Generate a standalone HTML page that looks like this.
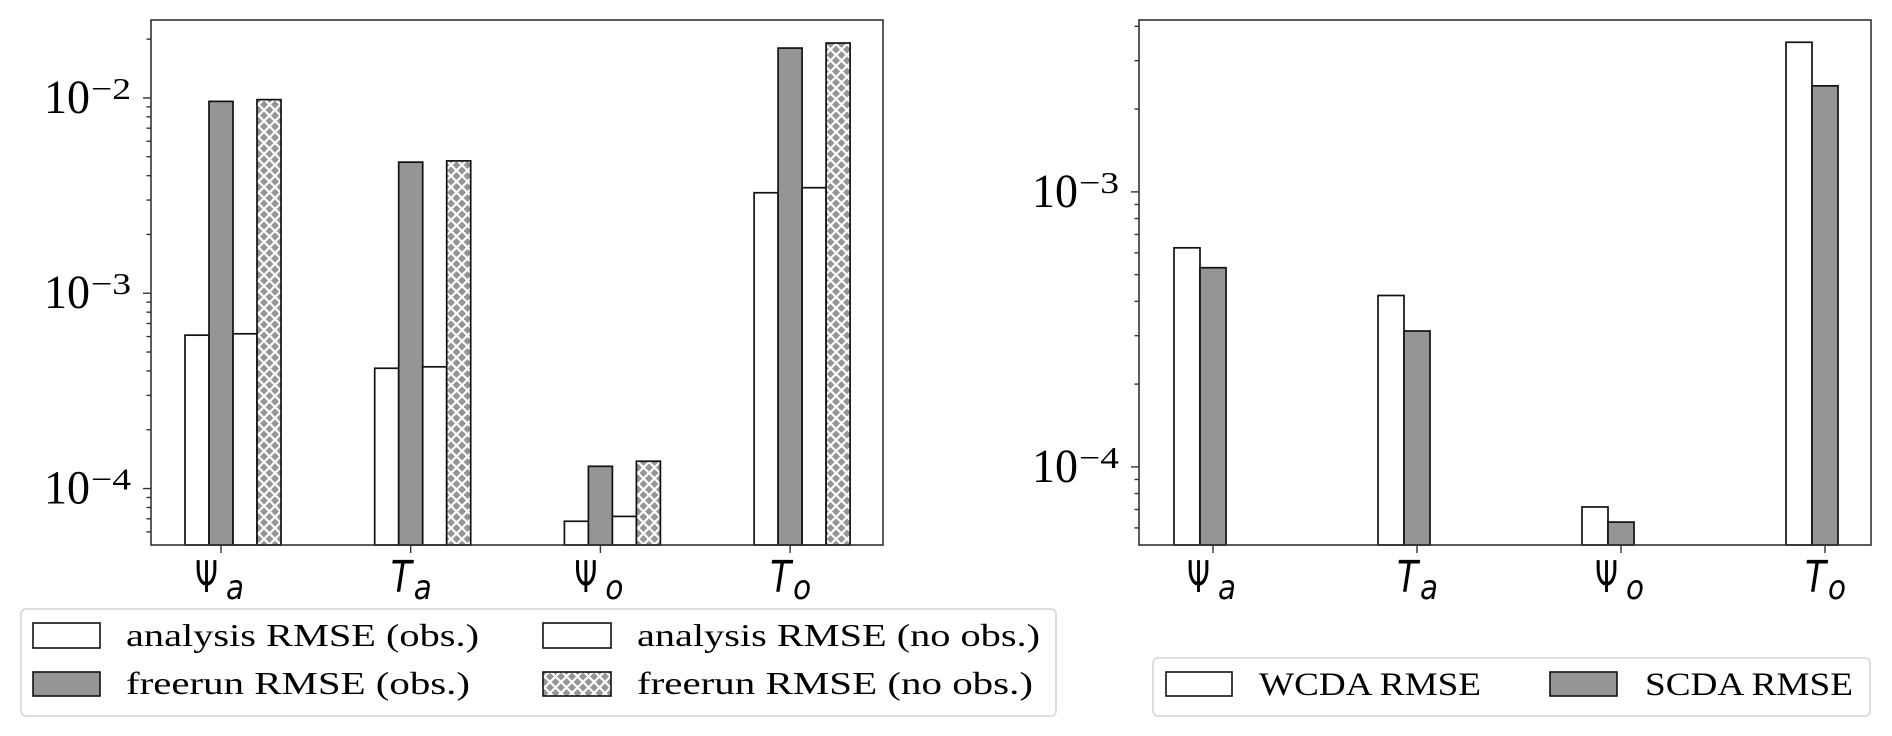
<!DOCTYPE html>
<html><head><meta charset="utf-8"><style>
html,body{margin:0;padding:0;background:#fff;}
svg{display:block;}
</style></head><body>
<svg id="fig" width="1892" height="736" viewBox="0 0 1892 736" xmlns="http://www.w3.org/2000/svg">
<defs>
<pattern id="xhatch" patternUnits="userSpaceOnUse" width="11" height="11">
<rect width="11" height="11" fill="#959595"/>
<path d="M0,0 L11,11 M11,0 L0,11" stroke="#fff" stroke-width="2.2"/>
</pattern>
</defs>
<g id="left-chart"></g>
<g id="right-chart"></g>

<g>
<rect x="21" y="609" width="1035" height="107" rx="5" fill="#fff" stroke="#d4d4d4" stroke-width="1.5"/>
<rect x="33" y="623" width="67" height="25" fill="#fff" stroke="#111" stroke-width="1.6"/>
<text x="126" y="646" font-family="Liberation Serif, serif" font-size="32" textLength="353" lengthAdjust="spacingAndGlyphs">analysis RMSE (obs.)</text>
<rect x="33" y="672" width="67" height="24" fill="#959595" stroke="#111" stroke-width="1.6"/>
<text x="126" y="694" font-family="Liberation Serif, serif" font-size="32" textLength="344" lengthAdjust="spacingAndGlyphs">freerun RMSE (obs.)</text>
<rect x="543" y="623" width="68" height="25" fill="#fff" stroke="#111" stroke-width="1.6"/>
<text x="637" y="646" font-family="Liberation Serif, serif" font-size="32" textLength="403" lengthAdjust="spacingAndGlyphs">analysis RMSE (no obs.)</text>
<rect x="543" y="672" width="68" height="24" fill="url(#xhatch)" stroke="#111" stroke-width="1.6"/>
<text x="637" y="694" font-family="Liberation Serif, serif" font-size="32" textLength="396" lengthAdjust="spacingAndGlyphs">freerun RMSE (no obs.)</text>
</g>

<g>
<rect x="1153" y="658" width="717" height="58" rx="5" fill="#fff" stroke="#d4d4d4" stroke-width="1.5"/>
<rect x="1166" y="672" width="66" height="24" fill="#fff" stroke="#111" stroke-width="1.6"/>
<text x="1259" y="695" font-family="Liberation Serif, serif" font-size="33" textLength="222" lengthAdjust="spacingAndGlyphs">WCDA RMSE</text>
<rect x="1550" y="672" width="67" height="24" fill="#959595" stroke="#111" stroke-width="1.6"/>
<text x="1645" y="695" font-family="Liberation Serif, serif" font-size="33" textLength="208" lengthAdjust="spacingAndGlyphs">SCDA RMSE</text>
</g>
</svg>
<script>
// ---- data ----
const categories = ["Ψa", "Ta", "Ψo", "To"];
const catMain = ["Ψ", "T", "Ψ", "T"];
const catSub = ["a", "a", "o", "o"];
const analysisObs = [6.1e-4, 4.13e-4, 6.8e-5, 3.27e-3];
const freerunObs = [9.6e-3, 4.69e-3, 1.30e-4, 1.80e-2];
const analysisNoObs = [6.2e-4, 4.2e-4, 7.2e-5, 3.47e-3];
const freerunNoObs = [9.8e-3, 4.76e-3, 1.38e-4, 1.91e-2];
const wcdaRmse = [6.26e-4, 4.2e-4, 7.15e-5, 3.5e-3];
const scdaRmse = [5.3e-4, 3.12e-4, 6.3e-5, 2.43e-3];
const leftTickExps = [-4, -3, -2];
const rightTickExps = [-4, -3];
const leftYRange = [-4.289, -1.601];
const rightYRange = [-4.284, -2.375];

const NS = "http://www.w3.org/2000/svg";
function mk(tag, attrs, parent) {
  const e = document.createElementNS(NS, tag);
  for (const k in attrs) e.setAttribute(k, attrs[k]);
  parent.appendChild(e);
  return e;
}

function drawChart(g, box, yr, tickExps, series, fills, names, tick0, tickStep, barW) {
  const yScale = v => box.b - (Math.log10(v) - yr[0]) / (yr[1] - yr[0]) * (box.b - box.t);
  const xScale = i => tick0 + i * tickStep;
  series.forEach((arr, s) => {
    arr.forEach((v, i) => {
      const cx = xScale(i) + (s - 1) * barW;
      const y = yScale(v);
      const r = mk("rect", {x: cx - barW / 2, y: y, width: barW, height: box.b - y, fill: fills[s], stroke: "#111", "stroke-width": 1.7}, g);
      
      
    });
  });
  const fr = mk("rect", {x: box.l, y: box.t, width: box.r - box.l, height: box.b - box.t, fill: "none", stroke: "#333", "stroke-width": 1.6}, g);
  
  
  for (let e = Math.floor(yr[0]); e <= Math.ceil(yr[1]); e++) {
    for (let m = 1; m <= 9; m++) {
      const lv = e + Math.log10(m);
      if (lv < yr[0] || lv > yr[1]) continue;
      const y = yScale(Math.pow(10, lv));
      const len = m === 1 ? 8 : 4.5;
      const t = mk("line", {x1: box.l - len, x2: box.l, y1: y, y2: y, stroke: "#333", "stroke-width": 1.4}, g);
      
      
    }
  }
  tickExps.forEach(e => {
    const y = yScale(Math.pow(10, e));
    const tg = mk("g", {}, g);
    
    
    const t1 = mk("text", {x: box.l - 107, y: y + 15, "font-family": "Liberation Serif, serif", "font-size": 48, textLength: 46, lengthAdjust: "spacingAndGlyphs", fill: "#000"}, tg);
    t1.textContent = "10";
    const t2 = mk("text", {x: box.l - 60, y: y + 1, "font-family": "Liberation Serif, serif", "font-size": 31, textLength: 40, lengthAdjust: "spacingAndGlyphs", fill: "#000"}, tg);
    t2.textContent = "\u2212" + Math.abs(e);
  });
  categories.forEach((c, i) => {
    const x = xScale(i);
    const t = mk("line", {x1: x, x2: x, y1: box.b, y2: box.b + 8, stroke: "#333", "stroke-width": 1.4}, g);
    
    
    const lg = mk("g", {}, g);
    
    
    const isPsi = catMain[i] === "Ψ";
    const m = mk("text", {x: isPsi ? x - 26 : x - 20, y: 592, "font-family": "DejaVu Sans, sans-serif", "font-size": 44, "font-style": isPsi ? "normal" : "italic", textLength: isPsi ? 23 : 21, lengthAdjust: "spacingAndGlyphs"}, lg);
    m.textContent = catMain[i];
    const sb = mk("text", {x: isPsi ? x + 5 : x + 3, y: 599, "font-family": "DejaVu Sans, sans-serif", "font-size": 34, "font-style": "italic", textLength: 18, lengthAdjust: "spacingAndGlyphs"}, lg);
    sb.textContent = catSub[i];
  });
}

drawChart(document.getElementById("left-chart"), {l: 151, r: 883, t: 20, b: 545}, leftYRange, leftTickExps,
  [analysisObs, freerunObs, analysisNoObs, freerunNoObs], ["#fff", "#959595", "#fff", "url(#xhatch)"],
  ["analysis-obs", "freerun-obs", "analysis-noobs", "freerun-noobs"], 221, 189.7, 24);
drawChart(document.getElementById("right-chart"), {l: 1139, r: 1871, t: 20, b: 545}, rightYRange, rightTickExps,
  [wcdaRmse, scdaRmse], ["#fff", "#959595"], ["wcda", "scda"], 1213, 204, 26);
</script>
</body></html>
